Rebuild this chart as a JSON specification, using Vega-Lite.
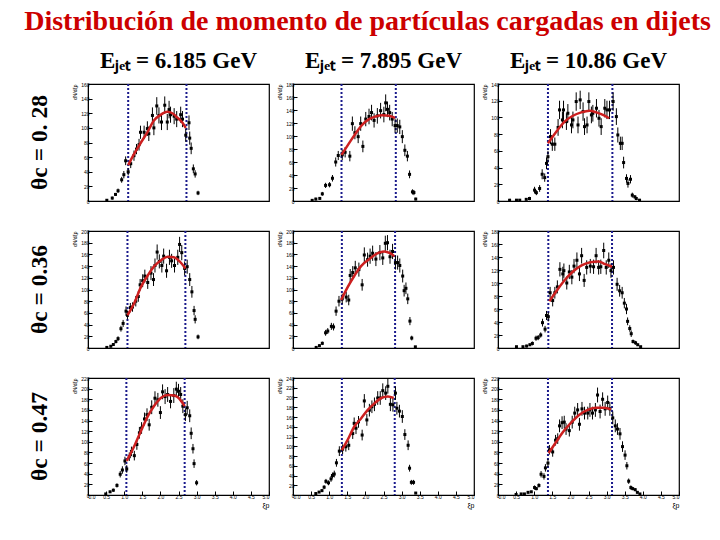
{
 "$schema": "https://vega.github.io/schema/vega-lite/v6.json",
 "background": "white",
 "padding": {"left": 24, "top": 8, "right": 4, "bottom": 5},
 "bounds": "flush",
 "title": {"text": "Distribución de momento de partículas cargadas en dijets", "font": "Liberation Serif", "fontSize": 28, "fontWeight": "bold", "color": "#cc0000", "anchor": "middle", "offset": 14, "dx": 14},
 "spacing": {"row": 30, "column": 24},
 "resolve": {"scale": {"y": "independent"}},
 "data": {"values": [
  {"c":1,"r":1,"k":"v","x":1.11},{"c":1,"r":1,"k":"v","x":2.72},
  {"c":2,"r":1,"k":"v","x":1.34},{"c":2,"r":1,"k":"v","x":2.84},
  {"c":3,"r":1,"k":"v","x":1.38},{"c":3,"r":1,"k":"v","x":3.16},
  {"c":1,"r":2,"k":"v","x":1.09},{"c":1,"r":2,"k":"v","x":2.69},
  {"c":2,"r":2,"k":"v","x":1.35},{"c":2,"r":2,"k":"v","x":2.82},
  {"c":3,"r":2,"k":"v","x":1.39},{"c":3,"r":2,"k":"v","x":3.15},
  {"c":1,"r":3,"k":"v","x":1.06},{"c":1,"r":3,"k":"v","x":2.67},
  {"c":2,"r":3,"k":"v","x":1.35},{"c":2,"r":3,"k":"v","x":2.81},
  {"c":3,"r":3,"k":"v","x":1.38},{"c":3,"r":3,"k":"v","x":3.15},

  {"c":1,"r":1,"k":"f","x":1.11,"y":49},{"c":1,"r":1,"k":"f","x":1.27,"y":64},{"c":1,"r":1,"k":"f","x":1.45,"y":79},{"c":1,"r":1,"k":"f","x":1.64,"y":94},{"c":1,"r":1,"k":"f","x":1.82,"y":110},{"c":1,"r":1,"k":"f","x":2.01,"y":118},{"c":1,"r":1,"k":"f","x":2.19,"y":122},{"c":1,"r":1,"k":"f","x":2.33,"y":120},{"c":1,"r":1,"k":"f","x":2.47,"y":114},{"c":1,"r":1,"k":"f","x":2.61,"y":107},{"c":1,"r":1,"k":"f","x":2.70,"y":100},
  {"c":2,"r":1,"k":"f","x":1.34,"y":71},{"c":2,"r":1,"k":"f","x":1.55,"y":89},{"c":2,"r":1,"k":"f","x":1.73,"y":104},{"c":2,"r":1,"k":"f","x":1.91,"y":117},{"c":2,"r":1,"k":"f","x":2.10,"y":126},{"c":2,"r":1,"k":"f","x":2.28,"y":130},{"c":2,"r":1,"k":"f","x":2.47,"y":132},{"c":2,"r":1,"k":"f","x":2.65,"y":131},{"c":2,"r":1,"k":"f","x":2.82,"y":128},
  {"c":3,"r":1,"k":"f","x":1.38,"y":69},{"c":3,"r":1,"k":"f","x":1.61,"y":83},{"c":3,"r":1,"k":"f","x":1.84,"y":95},{"c":3,"r":1,"k":"f","x":2.07,"y":102},{"c":3,"r":1,"k":"f","x":2.30,"y":106},{"c":3,"r":1,"k":"f","x":2.53,"y":108},{"c":3,"r":1,"k":"f","x":2.72,"y":106},{"c":3,"r":1,"k":"f","x":2.90,"y":103},{"c":3,"r":1,"k":"f","x":3.07,"y":99},
  {"c":1,"r":2,"k":"f","x":1.09,"y":56},{"c":1,"r":2,"k":"f","x":1.28,"y":77},{"c":1,"r":2,"k":"f","x":1.46,"y":104},{"c":1,"r":2,"k":"f","x":1.65,"y":124},{"c":1,"r":2,"k":"f","x":1.83,"y":140},{"c":1,"r":2,"k":"f","x":2.02,"y":150},{"c":1,"r":2,"k":"f","x":2.20,"y":156},{"c":1,"r":2,"k":"f","x":2.37,"y":155},{"c":1,"r":2,"k":"f","x":2.53,"y":148},{"c":1,"r":2,"k":"f","x":2.69,"y":136},
  {"c":2,"r":2,"k":"f","x":1.33,"y":82},{"c":2,"r":2,"k":"f","x":1.51,"y":104},{"c":2,"r":2,"k":"f","x":1.70,"y":124},{"c":2,"r":2,"k":"f","x":1.88,"y":140},{"c":2,"r":2,"k":"f","x":2.11,"y":152},{"c":2,"r":2,"k":"f","x":2.34,"y":162},{"c":2,"r":2,"k":"f","x":2.52,"y":165},{"c":2,"r":2,"k":"f","x":2.68,"y":162},{"c":2,"r":2,"k":"f","x":2.80,"y":157},
  {"c":3,"r":2,"k":"f","x":1.42,"y":72},{"c":3,"r":2,"k":"f","x":1.62,"y":88},{"c":3,"r":2,"k":"f","x":1.85,"y":105},{"c":3,"r":2,"k":"f","x":2.08,"y":118},{"c":3,"r":2,"k":"f","x":2.31,"y":127},{"c":3,"r":2,"k":"f","x":2.55,"y":132},{"c":3,"r":2,"k":"f","x":2.78,"y":133},{"c":3,"r":2,"k":"f","x":2.96,"y":129},{"c":3,"r":2,"k":"f","x":3.15,"y":125},
  {"c":1,"r":3,"k":"f","x":1.07,"y":64},{"c":1,"r":3,"k":"f","x":1.28,"y":92},{"c":1,"r":3,"k":"f","x":1.46,"y":120},{"c":1,"r":3,"k":"f","x":1.65,"y":148},{"c":1,"r":3,"k":"f","x":1.83,"y":168},{"c":1,"r":3,"k":"f","x":2.02,"y":183},{"c":1,"r":3,"k":"f","x":2.20,"y":188},{"c":1,"r":3,"k":"f","x":2.39,"y":187},{"c":1,"r":3,"k":"f","x":2.56,"y":178},{"c":1,"r":3,"k":"f","x":2.67,"y":167},
  {"c":2,"r":3,"k":"f","x":1.35,"y":92},{"c":2,"r":3,"k":"f","x":1.51,"y":113},{"c":2,"r":3,"k":"f","x":1.69,"y":140},{"c":2,"r":3,"k":"f","x":1.88,"y":157},{"c":2,"r":3,"k":"f","x":2.06,"y":174},{"c":2,"r":3,"k":"f","x":2.25,"y":188},{"c":2,"r":3,"k":"f","x":2.44,"y":199},{"c":2,"r":3,"k":"f","x":2.62,"y":202},{"c":2,"r":3,"k":"f","x":2.78,"y":199},
  {"c":3,"r":3,"k":"f","x":1.40,"y":79},{"c":3,"r":3,"k":"f","x":1.61,"y":100},{"c":3,"r":3,"k":"f","x":1.79,"y":118},{"c":3,"r":3,"k":"f","x":2.02,"y":136},{"c":3,"r":3,"k":"f","x":2.25,"y":151},{"c":3,"r":3,"k":"f","x":2.48,"y":160},{"c":3,"r":3,"k":"f","x":2.71,"y":164},{"c":3,"r":3,"k":"f","x":2.94,"y":164},{"c":3,"r":3,"k":"f","x":3.12,"y":161},

  {"c":1,"r":1,"k":"p","x":0.52,"y":1,"e":1},{"c":1,"r":1,"k":"p","x":0.67,"y":4,"e":2},{"c":1,"r":1,"k":"p","x":0.76,"y":9,"e":2},{"c":1,"r":1,"k":"p","x":0.83,"y":14,"e":3},{"c":1,"r":1,"k":"p","x":0.93,"y":29,"e":4},{"c":1,"r":1,"k":"p","x":0.99,"y":36,"e":5},{"c":1,"r":1,"k":"p","x":1.04,"y":55,"e":6},{"c":1,"r":1,"k":"p","x":1.11,"y":40,"e":5},{"c":1,"r":1,"k":"p","x":1.18,"y":51,"e":6},{"c":1,"r":1,"k":"p","x":1.27,"y":62,"e":7},{"c":1,"r":1,"k":"p","x":1.34,"y":71,"e":7},{"c":1,"r":1,"k":"p","x":1.41,"y":77,"e":8},{"c":1,"r":1,"k":"p","x":1.45,"y":94,"e":9},{"c":1,"r":1,"k":"p","x":1.55,"y":94,"e":9},{"c":1,"r":1,"k":"p","x":1.64,"y":99,"e":10},{"c":1,"r":1,"k":"p","x":1.68,"y":92,"e":10},{"c":1,"r":1,"k":"p","x":1.78,"y":117,"e":11},{"c":1,"r":1,"k":"p","x":1.82,"y":100,"e":10},{"c":1,"r":1,"k":"p","x":1.90,"y":130,"e":12},{"c":1,"r":1,"k":"p","x":1.96,"y":117,"e":11},{"c":1,"r":1,"k":"p","x":2.03,"y":108,"e":11},{"c":1,"r":1,"k":"p","x":2.12,"y":131,"e":12},{"c":1,"r":1,"k":"p","x":2.19,"y":108,"e":11},{"c":1,"r":1,"k":"p","x":2.24,"y":125,"e":12},{"c":1,"r":1,"k":"p","x":2.28,"y":118,"e":11},{"c":1,"r":1,"k":"p","x":2.38,"y":116,"e":11},{"c":1,"r":1,"k":"p","x":2.45,"y":112,"e":11},{"c":1,"r":1,"k":"p","x":2.56,"y":118,"e":11},{"c":1,"r":1,"k":"p","x":2.61,"y":112,"e":11},{"c":1,"r":1,"k":"p","x":2.70,"y":90,"e":9},{"c":1,"r":1,"k":"p","x":2.79,"y":107,"e":10},{"c":1,"r":1,"k":"p","x":2.81,"y":86,"e":9},{"c":1,"r":1,"k":"p","x":2.85,"y":72,"e":8},{"c":1,"r":1,"k":"p","x":2.91,"y":44,"e":6},{"c":1,"r":1,"k":"p","x":2.96,"y":37,"e":5},{"c":1,"r":1,"k":"p","x":3.04,"y":11,"e":3},

  {"c":2,"r":1,"k":"p","x":0.53,"y":1,"e":1},{"c":2,"r":1,"k":"p","x":0.63,"y":3,"e":2},{"c":2,"r":1,"k":"p","x":0.74,"y":4,"e":2},{"c":2,"r":1,"k":"p","x":0.81,"y":11,"e":3},{"c":2,"r":1,"k":"p","x":0.90,"y":24,"e":4},{"c":2,"r":1,"k":"p","x":1.01,"y":25,"e":4},{"c":2,"r":1,"k":"p","x":1.09,"y":35,"e":5},{"c":2,"r":1,"k":"p","x":1.18,"y":60,"e":7},{"c":2,"r":1,"k":"p","x":1.25,"y":70,"e":7},{"c":2,"r":1,"k":"p","x":1.36,"y":71,"e":8},{"c":2,"r":1,"k":"p","x":1.44,"y":75,"e":8},{"c":2,"r":1,"k":"p","x":1.57,"y":69,"e":8},{"c":2,"r":1,"k":"p","x":1.64,"y":119,"e":11},{"c":2,"r":1,"k":"p","x":1.71,"y":105,"e":10},{"c":2,"r":1,"k":"p","x":1.80,"y":99,"e":10},{"c":2,"r":1,"k":"p","x":1.87,"y":119,"e":11},{"c":2,"r":1,"k":"p","x":1.93,"y":84,"e":9},{"c":2,"r":1,"k":"p","x":2.01,"y":126,"e":11},{"c":2,"r":1,"k":"p","x":2.10,"y":130,"e":12},{"c":2,"r":1,"k":"p","x":2.17,"y":136,"e":12},{"c":2,"r":1,"k":"p","x":2.24,"y":124,"e":11},{"c":2,"r":1,"k":"p","x":2.33,"y":131,"e":12},{"c":2,"r":1,"k":"p","x":2.42,"y":139,"e":12},{"c":2,"r":1,"k":"p","x":2.51,"y":133,"e":12},{"c":2,"r":1,"k":"p","x":2.56,"y":151,"e":13},{"c":2,"r":1,"k":"p","x":2.61,"y":141,"e":12},{"c":2,"r":1,"k":"p","x":2.67,"y":136,"e":12},{"c":2,"r":1,"k":"p","x":2.74,"y":126,"e":11},{"c":2,"r":1,"k":"p","x":2.82,"y":116,"e":11},{"c":2,"r":1,"k":"p","x":2.88,"y":116,"e":11},{"c":2,"r":1,"k":"p","x":2.95,"y":114,"e":11},{"c":2,"r":1,"k":"p","x":3.02,"y":99,"e":10},{"c":2,"r":1,"k":"p","x":3.09,"y":78,"e":9},{"c":2,"r":1,"k":"p","x":3.16,"y":69,"e":8},{"c":2,"r":1,"k":"p","x":3.22,"y":41,"e":6},{"c":2,"r":1,"k":"p","x":3.30,"y":14,"e":4},{"c":2,"r":1,"k":"p","x":3.34,"y":13,"e":4},{"c":2,"r":1,"k":"p","x":3.39,"y":3,"e":2},

  {"c":3,"r":1,"k":"p","x":0.32,"y":1,"e":1},{"c":3,"r":1,"k":"p","x":0.51,"y":1,"e":1},{"c":3,"r":1,"k":"p","x":0.60,"y":1,"e":1},{"c":3,"r":1,"k":"p","x":0.78,"y":2,"e":1},{"c":3,"r":1,"k":"p","x":0.87,"y":3,"e":2},{"c":3,"r":1,"k":"p","x":1.01,"y":13,"e":4},{"c":3,"r":1,"k":"p","x":1.06,"y":10,"e":3},{"c":3,"r":1,"k":"p","x":1.15,"y":15,"e":4},{"c":3,"r":1,"k":"p","x":1.22,"y":32,"e":6},{"c":3,"r":1,"k":"p","x":1.29,"y":28,"e":5},{"c":3,"r":1,"k":"p","x":1.34,"y":45,"e":7},{"c":3,"r":1,"k":"p","x":1.38,"y":53,"e":7},{"c":3,"r":1,"k":"p","x":1.45,"y":77,"e":9},{"c":3,"r":1,"k":"p","x":1.50,"y":68,"e":8},{"c":3,"r":1,"k":"p","x":1.57,"y":68,"e":8},{"c":3,"r":1,"k":"p","x":1.66,"y":88,"e":10},{"c":3,"r":1,"k":"p","x":1.70,"y":109,"e":11},{"c":3,"r":1,"k":"p","x":1.78,"y":97,"e":10},{"c":3,"r":1,"k":"p","x":1.81,"y":109,"e":11},{"c":3,"r":1,"k":"p","x":1.89,"y":95,"e":10},{"c":3,"r":1,"k":"p","x":1.93,"y":105,"e":11},{"c":3,"r":1,"k":"p","x":2.03,"y":91,"e":10},{"c":3,"r":1,"k":"p","x":2.07,"y":97,"e":10},{"c":3,"r":1,"k":"p","x":2.16,"y":119,"e":11},{"c":3,"r":1,"k":"p","x":2.21,"y":91,"e":10},{"c":3,"r":1,"k":"p","x":2.27,"y":121,"e":11},{"c":3,"r":1,"k":"p","x":2.35,"y":107,"e":11},{"c":3,"r":1,"k":"p","x":2.39,"y":89,"e":10},{"c":3,"r":1,"k":"p","x":2.46,"y":91,"e":10},{"c":3,"r":1,"k":"p","x":2.51,"y":119,"e":11},{"c":3,"r":1,"k":"p","x":2.58,"y":103,"e":10},{"c":3,"r":1,"k":"p","x":2.62,"y":105,"e":10},{"c":3,"r":1,"k":"p","x":2.72,"y":111,"e":11},{"c":3,"r":1,"k":"p","x":2.79,"y":99,"e":10},{"c":3,"r":1,"k":"p","x":2.85,"y":89,"e":10},{"c":3,"r":1,"k":"p","x":2.95,"y":111,"e":11},{"c":3,"r":1,"k":"p","x":3.01,"y":109,"e":11},{"c":3,"r":1,"k":"p","x":3.08,"y":109,"e":11},{"c":3,"r":1,"k":"p","x":3.18,"y":119,"e":11},{"c":3,"r":1,"k":"p","x":3.27,"y":101,"e":10},{"c":3,"r":1,"k":"p","x":3.31,"y":79,"e":9},{"c":3,"r":1,"k":"p","x":3.38,"y":69,"e":8},{"c":3,"r":1,"k":"p","x":3.43,"y":69,"e":8},{"c":3,"r":1,"k":"p","x":3.47,"y":46,"e":7},{"c":3,"r":1,"k":"p","x":3.55,"y":27,"e":5},{"c":3,"r":1,"k":"p","x":3.59,"y":21,"e":5},{"c":3,"r":1,"k":"p","x":3.66,"y":26,"e":5},{"c":3,"r":1,"k":"p","x":3.71,"y":7,"e":3},{"c":3,"r":1,"k":"p","x":3.78,"y":5,"e":2},{"c":3,"r":1,"k":"p","x":3.82,"y":3,"e":2},{"c":3,"r":1,"k":"p","x":3.91,"y":1,"e":1},

  {"c":1,"r":2,"k":"p","x":0.52,"y":1,"e":1},{"c":1,"r":2,"k":"p","x":0.63,"y":3,"e":2},{"c":1,"r":2,"k":"p","x":0.70,"y":6,"e":2},{"c":1,"r":2,"k":"p","x":0.77,"y":11,"e":3},{"c":1,"r":2,"k":"p","x":0.83,"y":16,"e":4},{"c":1,"r":2,"k":"p","x":0.91,"y":33,"e":5},{"c":1,"r":2,"k":"p","x":0.97,"y":42,"e":6},{"c":1,"r":2,"k":"p","x":1.05,"y":63,"e":8},{"c":1,"r":2,"k":"p","x":1.09,"y":56,"e":7},{"c":1,"r":2,"k":"p","x":1.17,"y":69,"e":8},{"c":1,"r":2,"k":"p","x":1.23,"y":70,"e":8},{"c":1,"r":2,"k":"p","x":1.32,"y":80,"e":9},{"c":1,"r":2,"k":"p","x":1.39,"y":88,"e":9},{"c":1,"r":2,"k":"p","x":1.44,"y":108,"e":10},{"c":1,"r":2,"k":"p","x":1.51,"y":115,"e":11},{"c":1,"r":2,"k":"p","x":1.57,"y":123,"e":11},{"c":1,"r":2,"k":"p","x":1.65,"y":112,"e":11},{"c":1,"r":2,"k":"p","x":1.74,"y":128,"e":12},{"c":1,"r":2,"k":"p","x":1.81,"y":117,"e":11},{"c":1,"r":2,"k":"p","x":1.85,"y":141,"e":12},{"c":1,"r":2,"k":"p","x":1.91,"y":164,"e":13},{"c":1,"r":2,"k":"p","x":1.97,"y":148,"e":12},{"c":1,"r":2,"k":"p","x":2.04,"y":141,"e":12},{"c":1,"r":2,"k":"p","x":2.09,"y":157,"e":13},{"c":1,"r":2,"k":"p","x":2.17,"y":132,"e":12},{"c":1,"r":2,"k":"p","x":2.25,"y":155,"e":13},{"c":1,"r":2,"k":"p","x":2.31,"y":149,"e":12},{"c":1,"r":2,"k":"p","x":2.39,"y":141,"e":12},{"c":1,"r":2,"k":"p","x":2.48,"y":155,"e":13},{"c":1,"r":2,"k":"p","x":2.53,"y":177,"e":13},{"c":1,"r":2,"k":"p","x":2.59,"y":163,"e":13},{"c":1,"r":2,"k":"p","x":2.67,"y":136,"e":12},{"c":1,"r":2,"k":"p","x":2.74,"y":139,"e":12},{"c":1,"r":2,"k":"p","x":2.81,"y":117,"e":11},{"c":1,"r":2,"k":"p","x":2.87,"y":96,"e":10},{"c":1,"r":2,"k":"p","x":2.93,"y":64,"e":8},{"c":1,"r":2,"k":"p","x":2.96,"y":49,"e":7},{"c":1,"r":2,"k":"p","x":3.04,"y":19,"e":4},

  {"c":2,"r":2,"k":"p","x":0.64,"y":1,"e":1},{"c":2,"r":2,"k":"p","x":0.73,"y":4,"e":2},{"c":2,"r":2,"k":"p","x":0.81,"y":8,"e":3},{"c":2,"r":2,"k":"p","x":0.90,"y":26,"e":5},{"c":2,"r":2,"k":"p","x":0.96,"y":29,"e":5},{"c":2,"r":2,"k":"p","x":1.06,"y":37,"e":6},{"c":2,"r":2,"k":"p","x":1.12,"y":36,"e":6},{"c":2,"r":2,"k":"p","x":1.19,"y":63,"e":8},{"c":2,"r":2,"k":"p","x":1.27,"y":80,"e":9},{"c":2,"r":2,"k":"p","x":1.36,"y":84,"e":9},{"c":2,"r":2,"k":"p","x":1.47,"y":87,"e":9},{"c":2,"r":2,"k":"p","x":1.54,"y":82,"e":9},{"c":2,"r":2,"k":"p","x":1.58,"y":124,"e":11},{"c":2,"r":2,"k":"p","x":1.65,"y":129,"e":11},{"c":2,"r":2,"k":"p","x":1.72,"y":137,"e":12},{"c":2,"r":2,"k":"p","x":1.82,"y":134,"e":12},{"c":2,"r":2,"k":"p","x":1.91,"y":108,"e":10},{"c":2,"r":2,"k":"p","x":1.97,"y":159,"e":13},{"c":2,"r":2,"k":"p","x":2.06,"y":151,"e":12},{"c":2,"r":2,"k":"p","x":2.13,"y":157,"e":13},{"c":2,"r":2,"k":"p","x":2.20,"y":162,"e":13},{"c":2,"r":2,"k":"p","x":2.29,"y":152,"e":12},{"c":2,"r":2,"k":"p","x":2.40,"y":163,"e":13},{"c":2,"r":2,"k":"p","x":2.48,"y":154,"e":12},{"c":2,"r":2,"k":"p","x":2.55,"y":179,"e":13},{"c":2,"r":2,"k":"p","x":2.61,"y":180,"e":13},{"c":2,"r":2,"k":"p","x":2.68,"y":156,"e":12},{"c":2,"r":2,"k":"p","x":2.75,"y":165,"e":13},{"c":2,"r":2,"k":"p","x":2.83,"y":146,"e":12},{"c":2,"r":2,"k":"p","x":2.89,"y":146,"e":12},{"c":2,"r":2,"k":"p","x":2.95,"y":141,"e":12},{"c":2,"r":2,"k":"p","x":3.03,"y":123,"e":11},{"c":2,"r":2,"k":"p","x":3.07,"y":98,"e":10},{"c":2,"r":2,"k":"p","x":3.12,"y":102,"e":10},{"c":2,"r":2,"k":"p","x":3.17,"y":84,"e":9},{"c":2,"r":2,"k":"p","x":3.23,"y":46,"e":7},{"c":2,"r":2,"k":"p","x":3.28,"y":17,"e":4},{"c":2,"r":2,"k":"p","x":3.38,"y":2,"e":1},

  {"c":3,"r":2,"k":"p","x":0.51,"y":2,"e":1},{"c":3,"r":2,"k":"p","x":0.69,"y":2,"e":1},{"c":3,"r":2,"k":"p","x":0.79,"y":3,"e":2},{"c":3,"r":2,"k":"p","x":0.88,"y":5,"e":2},{"c":3,"r":2,"k":"p","x":0.95,"y":7,"e":3},{"c":3,"r":2,"k":"p","x":1.05,"y":15,"e":4},{"c":3,"r":2,"k":"p","x":1.11,"y":16,"e":4},{"c":3,"r":2,"k":"p","x":1.18,"y":20,"e":4},{"c":3,"r":2,"k":"p","x":1.23,"y":39,"e":6},{"c":3,"r":2,"k":"p","x":1.30,"y":29,"e":5},{"c":3,"r":2,"k":"p","x":1.34,"y":50,"e":7},{"c":3,"r":2,"k":"p","x":1.39,"y":48,"e":7},{"c":3,"r":2,"k":"p","x":1.44,"y":85,"e":9},{"c":3,"r":2,"k":"p","x":1.51,"y":73,"e":9},{"c":3,"r":2,"k":"p","x":1.57,"y":85,"e":9},{"c":3,"r":2,"k":"p","x":1.64,"y":94,"e":10},{"c":3,"r":2,"k":"p","x":1.71,"y":121,"e":11},{"c":3,"r":2,"k":"p","x":1.79,"y":114,"e":11},{"c":3,"r":2,"k":"p","x":1.82,"y":119,"e":11},{"c":3,"r":2,"k":"p","x":1.90,"y":100,"e":10},{"c":3,"r":2,"k":"p","x":1.97,"y":117,"e":11},{"c":3,"r":2,"k":"p","x":2.04,"y":109,"e":11},{"c":3,"r":2,"k":"p","x":2.10,"y":126,"e":11},{"c":3,"r":2,"k":"p","x":2.18,"y":135,"e":12},{"c":3,"r":2,"k":"p","x":2.25,"y":114,"e":11},{"c":3,"r":2,"k":"p","x":2.31,"y":142,"e":12},{"c":3,"r":2,"k":"p","x":2.38,"y":104,"e":10},{"c":3,"r":2,"k":"p","x":2.45,"y":124,"e":11},{"c":3,"r":2,"k":"p","x":2.55,"y":126,"e":11},{"c":3,"r":2,"k":"p","x":2.64,"y":125,"e":11},{"c":3,"r":2,"k":"p","x":2.71,"y":142,"e":12},{"c":3,"r":2,"k":"p","x":2.78,"y":124,"e":11},{"c":3,"r":2,"k":"p","x":2.84,"y":125,"e":11},{"c":3,"r":2,"k":"p","x":2.92,"y":150,"e":12},{"c":3,"r":2,"k":"p","x":2.99,"y":124,"e":11},{"c":3,"r":2,"k":"p","x":3.06,"y":135,"e":12},{"c":3,"r":2,"k":"p","x":3.12,"y":119,"e":11},{"c":3,"r":2,"k":"p","x":3.19,"y":124,"e":11},{"c":3,"r":2,"k":"p","x":3.29,"y":98,"e":10},{"c":3,"r":2,"k":"p","x":3.36,"y":88,"e":9},{"c":3,"r":2,"k":"p","x":3.43,"y":85,"e":9},{"c":3,"r":2,"k":"p","x":3.49,"y":69,"e":8},{"c":3,"r":2,"k":"p","x":3.55,"y":60,"e":8},{"c":3,"r":2,"k":"p","x":3.58,"y":41,"e":6},{"c":3,"r":2,"k":"p","x":3.64,"y":30,"e":5},{"c":3,"r":2,"k":"p","x":3.68,"y":22,"e":5},{"c":3,"r":2,"k":"p","x":3.73,"y":10,"e":3},{"c":3,"r":2,"k":"p","x":3.80,"y":8,"e":3},{"c":3,"r":2,"k":"p","x":3.86,"y":5,"e":2},{"c":3,"r":2,"k":"p","x":3.94,"y":2,"e":1},

  {"c":1,"r":3,"k":"p","x":0.49,"y":2,"e":1},{"c":1,"r":3,"k":"p","x":0.61,"y":6,"e":2},{"c":1,"r":3,"k":"p","x":0.70,"y":9,"e":3},{"c":1,"r":3,"k":"p","x":0.80,"y":18,"e":4},{"c":1,"r":3,"k":"p","x":0.89,"y":39,"e":6},{"c":1,"r":3,"k":"p","x":0.95,"y":47,"e":7},{"c":1,"r":3,"k":"p","x":1.02,"y":64,"e":8},{"c":1,"r":3,"k":"p","x":1.07,"y":49,"e":7},{"c":1,"r":3,"k":"p","x":1.14,"y":72,"e":8},{"c":1,"r":3,"k":"p","x":1.20,"y":82,"e":9},{"c":1,"r":3,"k":"p","x":1.28,"y":74,"e":9},{"c":1,"r":3,"k":"p","x":1.35,"y":95,"e":10},{"c":1,"r":3,"k":"p","x":1.42,"y":117,"e":11},{"c":1,"r":3,"k":"p","x":1.48,"y":126,"e":11},{"c":1,"r":3,"k":"p","x":1.56,"y":143,"e":12},{"c":1,"r":3,"k":"p","x":1.63,"y":151,"e":12},{"c":1,"r":3,"k":"p","x":1.69,"y":132,"e":11},{"c":1,"r":3,"k":"p","x":1.76,"y":165,"e":13},{"c":1,"r":3,"k":"p","x":1.85,"y":182,"e":13},{"c":1,"r":3,"k":"p","x":1.93,"y":179,"e":13},{"c":1,"r":3,"k":"p","x":2.00,"y":155,"e":12},{"c":1,"r":3,"k":"p","x":2.06,"y":194,"e":14},{"c":1,"r":3,"k":"p","x":2.13,"y":185,"e":14},{"c":1,"r":3,"k":"p","x":2.20,"y":189,"e":14},{"c":1,"r":3,"k":"p","x":2.28,"y":176,"e":13},{"c":1,"r":3,"k":"p","x":2.37,"y":187,"e":14},{"c":1,"r":3,"k":"p","x":2.44,"y":199,"e":14},{"c":1,"r":3,"k":"p","x":2.50,"y":195,"e":14},{"c":1,"r":3,"k":"p","x":2.56,"y":189,"e":14},{"c":1,"r":3,"k":"p","x":2.62,"y":167,"e":13},{"c":1,"r":3,"k":"p","x":2.69,"y":151,"e":12},{"c":1,"r":3,"k":"p","x":2.74,"y":164,"e":13},{"c":1,"r":3,"k":"p","x":2.81,"y":149,"e":12},{"c":1,"r":3,"k":"p","x":2.85,"y":116,"e":11},{"c":1,"r":3,"k":"p","x":2.90,"y":87,"e":9},{"c":1,"r":3,"k":"p","x":2.93,"y":59,"e":8},{"c":1,"r":3,"k":"p","x":3.00,"y":23,"e":5},

  {"c":2,"r":3,"k":"p","x":0.63,"y":3,"e":2},{"c":2,"r":3,"k":"p","x":0.72,"y":6,"e":2},{"c":2,"r":3,"k":"p","x":0.80,"y":9,"e":3},{"c":2,"r":3,"k":"p","x":0.86,"y":16,"e":4},{"c":2,"r":3,"k":"p","x":0.91,"y":28,"e":5},{"c":2,"r":3,"k":"p","x":0.98,"y":25,"e":5},{"c":2,"r":3,"k":"p","x":1.05,"y":33,"e":6},{"c":2,"r":3,"k":"p","x":1.09,"y":40,"e":6},{"c":2,"r":3,"k":"p","x":1.14,"y":43,"e":7},{"c":2,"r":3,"k":"p","x":1.20,"y":66,"e":8},{"c":2,"r":3,"k":"p","x":1.28,"y":90,"e":10},{"c":2,"r":3,"k":"p","x":1.37,"y":94,"e":10},{"c":2,"r":3,"k":"p","x":1.46,"y":99,"e":10},{"c":2,"r":3,"k":"p","x":1.54,"y":102,"e":10},{"c":2,"r":3,"k":"p","x":1.65,"y":126,"e":11},{"c":2,"r":3,"k":"p","x":1.69,"y":147,"e":12},{"c":2,"r":3,"k":"p","x":1.74,"y":137,"e":12},{"c":2,"r":3,"k":"p","x":1.81,"y":150,"e":12},{"c":2,"r":3,"k":"p","x":1.91,"y":123,"e":11},{"c":2,"r":3,"k":"p","x":1.97,"y":193,"e":14},{"c":2,"r":3,"k":"p","x":2.04,"y":154,"e":12},{"c":2,"r":3,"k":"p","x":2.11,"y":174,"e":13},{"c":2,"r":3,"k":"p","x":2.18,"y":181,"e":13},{"c":2,"r":3,"k":"p","x":2.25,"y":186,"e":14},{"c":2,"r":3,"k":"p","x":2.34,"y":199,"e":14},{"c":2,"r":3,"k":"p","x":2.41,"y":199,"e":14},{"c":2,"r":3,"k":"p","x":2.48,"y":214,"e":15},{"c":2,"r":3,"k":"p","x":2.56,"y":209,"e":14},{"c":2,"r":3,"k":"p","x":2.62,"y":223,"e":15},{"c":2,"r":3,"k":"p","x":2.69,"y":186,"e":14},{"c":2,"r":3,"k":"p","x":2.76,"y":185,"e":14},{"c":2,"r":3,"k":"p","x":2.83,"y":209,"e":14},{"c":2,"r":3,"k":"p","x":2.87,"y":178,"e":13},{"c":2,"r":3,"k":"p","x":2.94,"y":172,"e":13},{"c":2,"r":3,"k":"p","x":3.02,"y":161,"e":13},{"c":2,"r":3,"k":"p","x":3.09,"y":124,"e":11},{"c":2,"r":3,"k":"p","x":3.18,"y":102,"e":10},{"c":2,"r":3,"k":"p","x":3.22,"y":55,"e":7},{"c":2,"r":3,"k":"p","x":3.27,"y":26,"e":5},{"c":2,"r":3,"k":"p","x":3.33,"y":26,"e":5},{"c":2,"r":3,"k":"p","x":3.39,"y":4,"e":2},

  {"c":3,"r":3,"k":"p","x":0.50,"y":1,"e":1},{"c":3,"r":3,"k":"p","x":0.64,"y":2,"e":1},{"c":3,"r":3,"k":"p","x":0.73,"y":2,"e":1},{"c":3,"r":3,"k":"p","x":0.83,"y":5,"e":2},{"c":3,"r":3,"k":"p","x":0.92,"y":6,"e":2},{"c":3,"r":3,"k":"p","x":1.01,"y":14,"e":4},{"c":3,"r":3,"k":"p","x":1.06,"y":12,"e":3},{"c":3,"r":3,"k":"p","x":1.13,"y":18,"e":4},{"c":3,"r":3,"k":"p","x":1.19,"y":39,"e":6},{"c":3,"r":3,"k":"p","x":1.27,"y":35,"e":6},{"c":3,"r":3,"k":"p","x":1.31,"y":51,"e":7},{"c":3,"r":3,"k":"p","x":1.38,"y":60,"e":8},{"c":3,"r":3,"k":"p","x":1.42,"y":85,"e":9},{"c":3,"r":3,"k":"p","x":1.51,"y":81,"e":9},{"c":3,"r":3,"k":"p","x":1.59,"y":103,"e":10},{"c":3,"r":3,"k":"p","x":1.65,"y":106,"e":10},{"c":3,"r":3,"k":"p","x":1.70,"y":130,"e":12},{"c":3,"r":3,"k":"p","x":1.77,"y":136,"e":12},{"c":3,"r":3,"k":"p","x":1.83,"y":137,"e":12},{"c":3,"r":3,"k":"p","x":1.88,"y":124,"e":11},{"c":3,"r":3,"k":"p","x":1.97,"y":121,"e":11},{"c":3,"r":3,"k":"p","x":2.05,"y":137,"e":12},{"c":3,"r":3,"k":"p","x":2.12,"y":154,"e":12},{"c":3,"r":3,"k":"p","x":2.20,"y":160,"e":13},{"c":3,"r":3,"k":"p","x":2.25,"y":133,"e":12},{"c":3,"r":3,"k":"p","x":2.32,"y":162,"e":13},{"c":3,"r":3,"k":"p","x":2.39,"y":154,"e":12},{"c":3,"r":3,"k":"p","x":2.48,"y":154,"e":12},{"c":3,"r":3,"k":"p","x":2.54,"y":160,"e":13},{"c":3,"r":3,"k":"p","x":2.61,"y":154,"e":12},{"c":3,"r":3,"k":"p","x":2.69,"y":160,"e":13},{"c":3,"r":3,"k":"p","x":2.75,"y":188,"e":14},{"c":3,"r":3,"k":"p","x":2.82,"y":157,"e":13},{"c":3,"r":3,"k":"p","x":2.89,"y":180,"e":13},{"c":3,"r":3,"k":"p","x":2.96,"y":162,"e":13},{"c":3,"r":3,"k":"p","x":3.03,"y":174,"e":13},{"c":3,"r":3,"k":"p","x":3.09,"y":162,"e":13},{"c":3,"r":3,"k":"p","x":3.17,"y":145,"e":12},{"c":3,"r":3,"k":"p","x":3.24,"y":130,"e":12},{"c":3,"r":3,"k":"p","x":3.30,"y":124,"e":11},{"c":3,"r":3,"k":"p","x":3.37,"y":115,"e":11},{"c":3,"r":3,"k":"p","x":3.44,"y":91,"e":10},{"c":3,"r":3,"k":"p","x":3.51,"y":75,"e":9},{"c":3,"r":3,"k":"p","x":3.56,"y":55,"e":7},{"c":3,"r":3,"k":"p","x":3.61,"y":26,"e":5},{"c":3,"r":3,"k":"p","x":3.67,"y":14,"e":4},{"c":3,"r":3,"k":"p","x":3.72,"y":12,"e":3},{"c":3,"r":3,"k":"p","x":3.79,"y":10,"e":3},{"c":3,"r":3,"k":"p","x":3.85,"y":5,"e":2},{"c":3,"r":3,"k":"p","x":3.92,"y":2,"e":1}
 ]},
 "facet": {
  "row": {"field": "r", "type": "ordinal", "title": null,
   "header": {"labelExpr": "datum.value == 1 ? 'θc = 0. 28' : datum.value == 2 ? 'θc = 0.36' : 'θc = 0.47'", "labelAngle": -90, "labelFont": "Liberation Serif", "labelFontSize": 23.5, "labelFontWeight": "bold", "labelColor": "black", "labelPadding": 25}},
  "column": {"field": "c", "type": "ordinal", "title": null,
   "header": {"labelExpr": "datum.value == 1 ? 'Eⱼₑₜ = 6.185 GeV' : datum.value == 2 ? 'Eⱼₑₜ = 7.895 GeV' : 'Eⱼₑₜ = 10.86 GeV'", "labelFont": "Liberation Serif", "labelFontSize": 23, "labelFontWeight": "bold", "labelColor": "black", "labelPadding": 11}}
 },
 "spec": {
  "width": 181,
  "height": 117,
  "encoding": {
   "x": {"field": "x", "type": "quantitative", "scale": {"domain": [0, 5]},
    "axis": {"values": [0, 0.5, 1, 1.5, 2, 2.5, 3, 3.5, 4, 4.5, 5], "title": "ξp", "titleAnchor": "end", "titleFontSize": 7, "titlePadding": 2, "labelFontSize": 5, "tickSize": -4, "labelPadding": 3}}
  },
  "layer": [
   {"transform": [{"filter": "datum.k == 'v'"}],
    "mark": {"type": "rule", "color": "#1a1a8c", "strokeDash": [2, 2], "strokeWidth": 2}},
   {"transform": [{"filter": "datum.k == 'p'"}],
    "mark": {"type": "errorbar", "color": "black", "thickness": 1},
    "encoding": {"y": {"field": "y", "type": "quantitative", "scale": {"zero": true, "nice": true},
      "axis": {"title": "dN/dξp", "titleAnchor": "end", "titleFontSize": 5, "titlePadding": 3, "labelFontSize": 5, "tickSize": -4, "tickCount": 8, "labelPadding": 3}},
     "yError": {"field": "e"}}},
   {"transform": [{"filter": "datum.k == 'p'"}],
    "mark": {"type": "square", "color": "black", "filled": true, "opacity": 1, "size": 9},
    "encoding": {"y": {"field": "y", "type": "quantitative"}}},
   {"transform": [{"filter": "datum.k == 'f'"}],
    "mark": {"type": "line", "color": "#cc1f1f", "strokeWidth": 2.5, "interpolate": "monotone"},
    "encoding": {"y": {"field": "y", "type": "quantitative"}}}
  ]
 },
 "config": {
  "view": {"stroke": "black", "strokeWidth": 1.2},
  "font": "Liberation Sans",
  "axis": {"grid": false, "domainColor": "black", "tickColor": "black", "labelColor": "black", "titleColor": "black", "titleFontWeight": "normal"}
 }
}
